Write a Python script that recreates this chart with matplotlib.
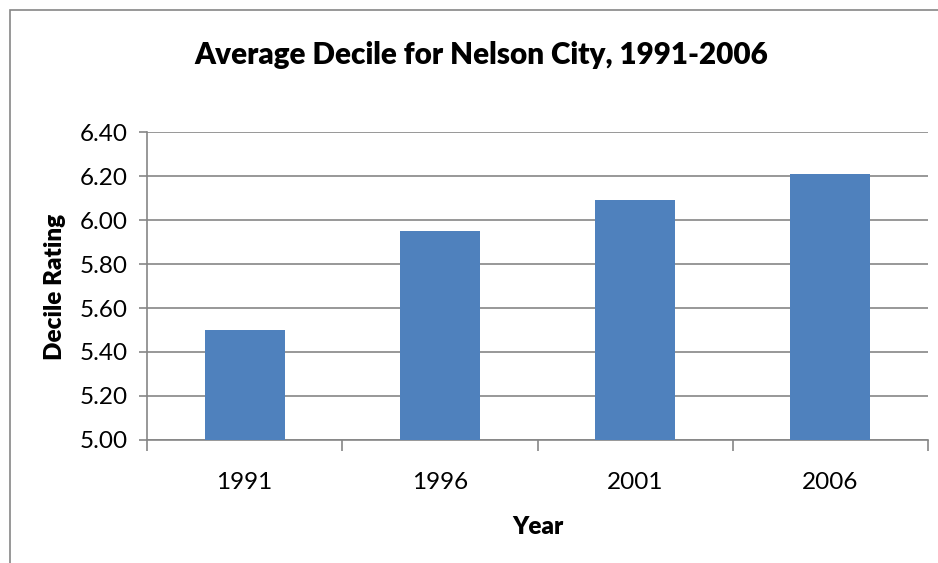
import matplotlib
matplotlib.use("Agg")
import matplotlib.pyplot as plt
from matplotlib.patches import Rectangle

years = ["1991", "1996", "2001", "2006"]
deciles = [5.50, 5.95, 6.09, 6.21]
yticks = [5.00, 5.20, 5.40, 5.60, 5.80, 6.00, 6.20, 6.40]

W, H = 938, 563
fig = plt.figure(figsize=(W / 100, H / 100), dpi=100)
plt.rcParams['font.family'] = ['Lato', 'DejaVu Sans']

# chart border (cropped on right and bottom)
fig.patches.append(Rectangle((10 / W, -0.1), 1.2, (H - 10) / H + 0.1, transform=fig.transFigure,
                             fill=False, edgecolor='#868686', linewidth=1.2))

left, right, top, bottom = 147, 928, 132, 440
ax = fig.add_axes([left / W, 1 - bottom / H, (right - left) / W, (bottom - top) / H])

x = list(range(len(years)))
ax.bar(x, [d - 5.0 for d in deciles], bottom=5.0, width=0.41, color='#4F81BD', zorder=3)
ax.set_xlim(-0.5, len(years) - 0.5)
ax.set_ylim(5.0, 6.4)
ax.set_yticks(yticks)
ax.set_yticklabels([f"{v:.2f}" for v in yticks], fontsize=17.5)
ax.yaxis.grid(True, color='#868686', linewidth=1.2, zorder=0)
ax.set_xticks(x)
ax.set_xticklabels(years, fontsize=17.5)
ax.tick_params(axis='x', length=0, pad=23)
ax.tick_params(axis='y', length=6, width=1.2, color='#868686', pad=8)
# category boundary ticks
ax.set_xticks([i - 0.5 for i in range(len(years) + 1)], minor=True)
ax.tick_params(axis='x', which='minor', length=8, width=1.2, color='#868686')
for s in ['top', 'right']:
    ax.spines[s].set_visible(False)
for s in ['left', 'bottom']:
    ax.spines[s].set_color('#868686')
    ax.spines[s].set_linewidth(1.2)

fig.text(481 / W, 1 - 55 / H, "Average Decile for Nelson City, 1991-2006", ha='center', va='center',
         fontsize=21.3, fontweight='heavy')
fig.text(55 / W, 1 - 287 / H, "Decile Rating", ha='center', va='center', rotation=90,
         fontsize=17.5, fontweight='heavy')
fig.text(538 / W, 1 - 527 / H, "Year", ha='center', va='center', fontsize=17.5, fontweight='heavy')

fig.savefig("out.png", dpi=100)
